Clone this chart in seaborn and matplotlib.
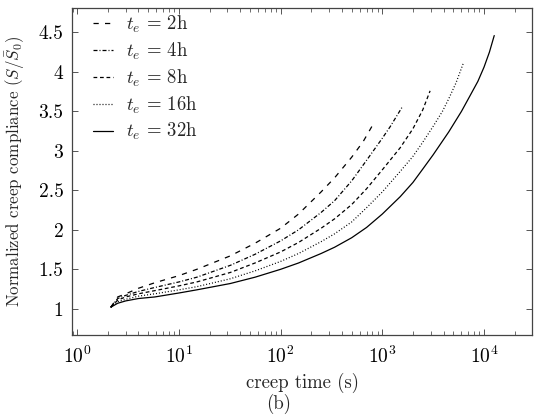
import numpy as np
import pandas as pd
import matplotlib
matplotlib.use("Agg")
import matplotlib.pyplot as plt
import seaborn as sns

# ---- data ----
labels = [r"$t_e\,=\,2$h", r"$t_e\,=\,4$h", r"$t_e\,=\,8$h", r"$t_e\,=\,16$h", r"$t_e\,=\,32$h"]

t_2h = [2.14, 2.5, 3, 4, 5.8, 10, 15, 32, 56, 100, 150, 250, 340, 500, 650, 790]
s_2h = [1.02, 1.15, 1.19, 1.26, 1.33, 1.42, 1.50, 1.67, 1.83, 2.02, 2.20, 2.48, 2.66, 2.92, 3.12, 3.31]

t_4h = [2.14, 2.5, 3, 4, 5.8, 10, 15, 32, 56, 100, 150, 250, 340, 500, 700, 1000, 1200, 1560]
s_4h = [1.02, 1.13, 1.17, 1.22, 1.27, 1.34, 1.40, 1.55, 1.69, 1.86, 2.00, 2.22, 2.37, 2.62, 2.88, 3.16, 3.31, 3.55]

t_8h = [2.14, 2.5, 3, 4, 5.8, 10, 15, 32, 56, 100, 150, 250, 340, 500, 700, 1000, 1500, 2000, 2500, 2950]
s_8h = [1.02, 1.11, 1.15, 1.19, 1.23, 1.29, 1.34, 1.46, 1.58, 1.72, 1.84, 2.02, 2.14, 2.32, 2.52, 2.76, 3.04, 3.28, 3.52, 3.76]

t_16h = [2.14, 2.5, 3, 4, 5.8, 10, 15, 32, 56, 100, 150, 250, 340, 500, 700, 1000, 1500, 2000, 2500, 3160, 3900, 4500, 5300, 6300]
s_16h = [1.02, 1.09, 1.12, 1.16, 1.19, 1.24, 1.28, 1.38, 1.48, 1.60, 1.70, 1.85, 1.95, 2.10, 2.28, 2.48, 2.74, 2.93, 3.11, 3.31, 3.50, 3.66, 3.86, 4.12]

t_32h = [2.14, 2.5, 3, 4, 5.8, 10, 15, 32, 56, 100, 150, 250, 340, 500, 700, 1000, 1500, 2000, 2500, 3160, 4500, 6000, 7300, 8700, 10000, 11300, 12600]
s_32h = [1.02, 1.07, 1.10, 1.13, 1.15, 1.20, 1.24, 1.32, 1.40, 1.50, 1.58, 1.70, 1.78, 1.90, 2.03, 2.20, 2.42, 2.60, 2.77, 2.95, 3.24, 3.50, 3.70, 3.88, 4.06, 4.25, 4.46]

series_t = [t_2h, t_4h, t_8h, t_16h, t_32h]
series_s = [s_2h, s_4h, s_8h, s_16h, s_32h]

frames = []
for lab, t, s in zip(labels, series_t, series_s):
    frames.append(pd.DataFrame({"t": t, "S": s, "case": lab}))
df = pd.concat(frames, ignore_index=True)

# ---- style ----
sns.set_theme(style="ticks")
plt.rcParams["font.family"] = ["cmr10", "DejaVu Serif"]
plt.rcParams["mathtext.fontset"] = "cm"
plt.rcParams["axes.formatter.use_mathtext"] = True
plt.rcParams["axes.unicode_minus"] = False

fig = plt.figure(figsize=(5.36, 4.17), dpi=100)
ax = fig.add_axes([0.134, 0.197, 0.859, 0.784])

dash_map = {
    labels[0]: (4.2, 5.0),
    labels[1]: (3.2, 1.6, 0.8, 1.6),
    labels[2]: (3.0, 2.2),
    labels[3]: (0.8, 1.6),
    labels[4]: "",
}

sns.lineplot(data=df, x="t", y="S", style="case", style_order=labels,
             dashes=dash_map, color="black", linewidth=0.9,
             estimator=None, sort=False, ax=ax)

ax.set_xscale("log")
ax.set_xlim(0.885, 29800)
ax.set_ylim(0.67, 4.81)
ax.set_yticks([1, 1.5, 2, 2.5, 3, 3.5, 4, 4.5])
ax.set_yticklabels(["1", "1.5", "2", "2.5", "3", "3.5", "4", "4.5"])
ax.set_xticks([1, 10, 100, 1000, 10000])

for sp in ax.spines.values():
    sp.set_color("#444444")
    sp.set_linewidth(0.9)
ax.tick_params(which="both", direction="in", top=True, right=True,
               color="#555555", labelsize=14, labelcolor="black")
ax.tick_params(which="major", length=4.5, width=0.7, pad=6)
ax.tick_params(axis="x", which="major", pad=8)
ax.tick_params(which="minor", length=2.8, width=0.6)
ax.minorticks_on()
ax.yaxis.set_minor_locator(matplotlib.ticker.NullLocator())

ax.set_xlabel("creep time (s)", fontsize=13.5, labelpad=4)
ax.set_ylabel(r"Normalized creep compliance $(S/\bar{S}_0)$", fontsize=12.2, labelpad=8)
fig.text(0.519, 0.031, "(b)", ha="center", va="center", fontsize=13.5)

handles, labs = ax.get_legend_handles_labels()
ax.legend(handles, labs, loc="upper left", bbox_to_anchor=(0.025, 1.01),
          frameon=False, fontsize=13.5, handlelength=1.1, handletextpad=0.7,
          labelspacing=0.3, borderaxespad=0.2, borderpad=0.3)

fig.savefig("out.png", dpi=100)
